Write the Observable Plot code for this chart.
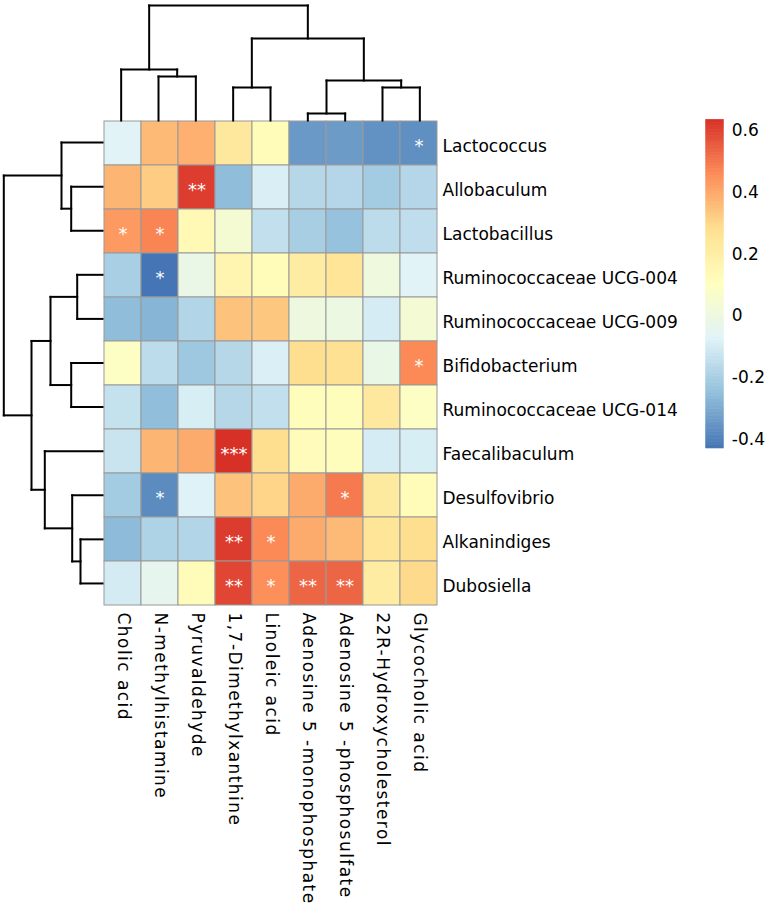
<!DOCTYPE html>
<html>
<head>
<meta charset="utf-8">
<script src="https://cdn.jsdelivr.net/npm/d3@7"></script>
<script src="https://cdn.jsdelivr.net/npm/@observablehq/plot@0.6"></script>
<style>
  html, body { margin: 0; padding: 0; background: #fff; }
  #chart { position: relative; width: 767px; height: 923px; overflow: hidden; font-family: "DejaVu Sans", sans-serif; }
  #chart svg { position: absolute; left: 0; top: 0; background: transparent !important; overflow: visible; }
</style>
</head>
<body>
<div id="chart"></div>
<script>
// ---------------- data ----------------
const cols = ["Cholic acid", "N-methylhistamine", "Pyruvaldehyde", "1,7-Dimethylxanthine", "Linoleic acid",
  "Adenosine 5 -monophosphate", "Adenosine 5 -phosphosulfate", "22R-Hydroxycholesterol", "Glycocholic acid"];
const rows = ["Lactococcus", "Allobaculum", "Lactobacillus", "Ruminococcaceae UCG-004", "Ruminococcaceae UCG-009",
  "Bifidobacterium", "Ruminococcaceae UCG-014", "Faecalibaculum", "Desulfovibrio", "Alkanindiges", "Dubosiella"];

// correlation values, one array per row (column order as in cols)
const lactococcus    = [-0.07, 0.36, 0.38, 0.23, 0.12, -0.345, -0.34, -0.365, -0.37];
const allobaculum    = [0.37, 0.32, 0.607, -0.26, -0.093, -0.173, -0.175, -0.214, -0.175];
const lactobacillus  = [0.427, 0.47, 0.137, 0.038, -0.145, -0.205, -0.244, -0.155, -0.152];
const ucg004         = [-0.2, -0.432, -0.02, 0.157, 0.12, 0.21, 0.25, 0.008, -0.07];
const ucg009         = [-0.26, -0.278, -0.18, 0.339, 0.33, 0.0, -0.01, -0.1, 0.035];
const bifidobacterium= [0.085, -0.155, -0.225, -0.173, -0.09, 0.28, 0.27, -0.025, 0.46];
const ucg014         = [-0.14, -0.255, -0.095, -0.173, -0.145, 0.11, 0.11, 0.23, 0.085];
const faecalibaculum = [-0.13, 0.37, 0.39, 0.632, 0.28, 0.115, 0.11, -0.1, -0.095];
const desulfovibrio  = [-0.215, -0.38, -0.08, 0.34, 0.3, 0.39, 0.49, 0.22, 0.12];
const alkanindiges   = [-0.265, -0.19, -0.178, 0.61, 0.46, 0.39, 0.36, 0.25, 0.28];
const dubosiella     = [-0.105, -0.045, 0.12, 0.59, 0.45, 0.53, 0.53, 0.21, 0.29];
const rowValues = [lactococcus, allobaculum, lactobacillus, ucg004, ucg009, bifidobacterium,
  ucg014, faecalibaculum, desulfovibrio, alkanindiges, dubosiella];

// significance marks: [row, column, stars]
const stars = [
  ["Lactococcus", "Glycocholic acid", "*"],
  ["Allobaculum", "Pyruvaldehyde", "**"],
  ["Lactobacillus", "Cholic acid", "*"],
  ["Lactobacillus", "N-methylhistamine", "*"],
  ["Ruminococcaceae UCG-004", "N-methylhistamine", "*"],
  ["Bifidobacterium", "Glycocholic acid", "*"],
  ["Faecalibaculum", "1,7-Dimethylxanthine", "***"],
  ["Desulfovibrio", "N-methylhistamine", "*"],
  ["Desulfovibrio", "Adenosine 5 -phosphosulfate", "*"],
  ["Alkanindiges", "1,7-Dimethylxanthine", "**"],
  ["Alkanindiges", "Linoleic acid", "*"],
  ["Dubosiella", "1,7-Dimethylxanthine", "**"],
  ["Dubosiella", "Linoleic acid", "*"],
  ["Dubosiella", "Adenosine 5 -monophosphate", "**"],
  ["Dubosiella", "Adenosine 5 -phosphosulfate", "**"]
];

// dendrograms (hclust convention: negative = leaf -(index+1), positive = earlier merge number)
const colMerge   = [[-2, -3], [-1, 1], [-4, -5], [-6, -7], [-8, -9], [4, 5], [3, 6], [2, 7]];
const colHeights = [44, 51, 33, 7, 33, 40, 82, 115];
const rowMerge   = [[-2, -3], [-1, 1], [-4, -5], [-6, -7], [3, 4], [-10, -11], [-9, 6], [-8, 7], [5, 8], [2, 9]];
const rowHeights = [31.3, 41, 25.3, 31.3, 52, 22, 30.3, 57.7, 71, 98.7];

// colour legend
const legendMin = -0.432, legendMax = 0.632;
const legendTicks = [-0.4, -0.2, 0, 0.2, 0.4, 0.6];
const paletteColors = ["#4575B4", "#91BFDB", "#E0F3F8", "#FFFFBF", "#FEE090", "#FC8D59", "#D73027"];

// ---------------- build ----------------
const W = 767, H = 923;
const gridL = 102, gridR = 438, gridT = 120, gridB = 605;
const font = "DejaVu Sans";

const colorDomain = paletteColors.map((_, i) => legendMin + (legendMax - legendMin) * i / (paletteColors.length - 1));
const colorOpts = {type: "linear", domain: colorDomain, range: paletteColors, interpolate: "rgb"};

const cells = [];
rows.forEach((r, i) => cols.forEach((c, j) => cells.push({row: r, col: c, value: rowValues[i][j]})));
const starData = stars.map(([row, col, s]) => ({row, col, s}));

function dendro(merge, heights) {
  const pos = [];
  const P = c => c < 0 ? -c - 1 : pos[c - 1];
  const Hh = c => c < 0 ? 0 : heights[c - 1];
  const segs = [];
  merge.forEach(([a, b], i) => {
    const pa = P(a), pb = P(b), h = heights[i];
    pos[i] = (pa + pb) / 2;
    segs.push({p1: pa, h1: Hh(a), p2: pa, h2: h});
    segs.push({p1: pa, h1: h, p2: pb, h2: h});
    segs.push({p1: pb, h1: Hh(b), p2: pb, h2: h});
  });
  return segs;
}

const chart = document.getElementById("chart");
function add(svg) {
  svg.style.position = "absolute";
  svg.style.left = "0px";
  svg.style.top = "0px";
  svg.style.background = "transparent";
  svg.style.fontFamily = font;
  chart.appendChild(svg);
  return svg;
}

// heatmap
add(Plot.plot({
  width: W, height: H,
  marginLeft: gridL, marginRight: W - gridR, marginTop: gridT, marginBottom: H - gridB,
  x: {type: "band", domain: cols, padding: 0, axis: null},
  y: {type: "band", domain: rows, padding: 0, axis: null},
  color: colorOpts,
  marks: [
    Plot.cell(cells, {x: "col", y: "row", fill: "value", stroke: "#999999", strokeWidth: 1, inset: 0}),
    Plot.text(starData, {x: "col", y: "row", text: "s", fill: "#ffffff", fontSize: 18, dy: 3}),
    Plot.text(rows, {y: d => d, text: d => d, frameAnchor: "right", textAnchor: "start", dx: 4, dy: 3, fontSize: 17, fill: "#000"})
  ]
}));

// column labels (stretched spacing)
const colLab = add(Plot.plot({
  width: W, height: H,
  marginLeft: gridL, marginRight: W - gridR, marginTop: gridT, marginBottom: H - gridB,
  x: {type: "band", domain: cols, padding: 0, axis: null},
  y: {type: "band", domain: rows, padding: 0, axis: null},
  marks: [
    Plot.text(cols, {x: d => d, text: d => d, frameAnchor: "bottom", rotate: 90, textAnchor: "start", dx: -5, dy: 7, fontSize: 17, fill: "#000"})
  ]
}));
colLab.style.letterSpacing = "1.45px";

// column dendrogram
add(Plot.plot({
  width: W, height: H,
  marginLeft: gridL, marginRight: W - gridR, marginTop: 5, marginBottom: H - gridT,
  x: {type: "linear", domain: [-0.5, cols.length - 0.5], axis: null},
  y: {type: "linear", domain: [0, d3.max(colHeights)], axis: null},
  marks: [
    Plot.link(dendro(colMerge, colHeights), {x1: "p1", y1: "h1", x2: "p2", y2: "h2", stroke: "#000", strokeWidth: 2, strokeLinecap: "square"})
  ]
}));

// row dendrogram
add(Plot.plot({
  width: W, height: H,
  marginLeft: 3.3, marginRight: W - gridL, marginTop: gridT, marginBottom: H - gridB,
  x: {type: "linear", domain: [0, d3.max(rowHeights)], reverse: true, axis: null},
  y: {type: "linear", domain: [-0.5, rows.length - 0.5], reverse: true, axis: null},
  marks: [
    Plot.link(dendro(rowMerge, rowHeights), {x1: "h1", y1: "p1", x2: "h2", y2: "p2", stroke: "#000", strokeWidth: 2, strokeLinecap: "square"})
  ]
}));

// colour legend
const nSteps = 100;
const steps = d3.range(nSteps).map(i => {
  const lo = legendMin + (legendMax - legendMin) * i / nSteps;
  const hi = legendMin + (legendMax - legendMin) * (i + 1) / nSteps;
  return {lo, hi, mid: (lo + hi) / 2};
});
add(Plot.plot({
  width: W, height: H,
  marginLeft: 705.7, marginRight: W - 723.3, marginTop: 119.3, marginBottom: H - 448,
  x: {type: "linear", domain: [0, 1], axis: null},
  y: {type: "linear", domain: [legendMin, legendMax], axis: null},
  color: colorOpts,
  marks: [
    Plot.rect(steps, {x1: 0, x2: 1, y1: "lo", y2: "hi", fill: "mid", stroke: "mid", strokeWidth: 0.6}),
    Plot.text(legendTicks, {x: 1, y: d => d, text: d => String(d), textAnchor: "start", dx: 8, dy: 1, fontSize: 17, fill: "#000"})
  ]
}));
</script>
</body>
</html>
